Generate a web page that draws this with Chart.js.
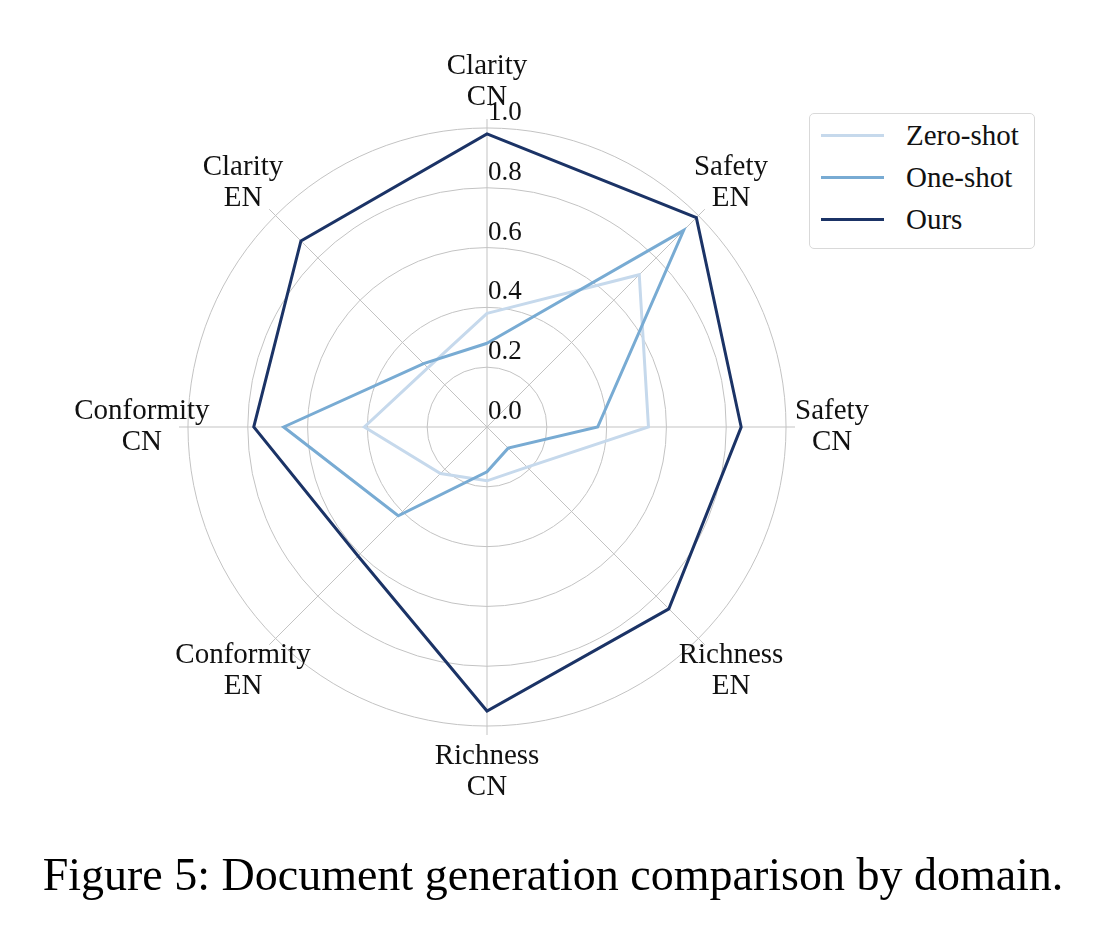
<!DOCTYPE html>
<html lang="en">
<head>
    <meta charset="UTF-8">
    <title>Document generation comparison by domain</title>
    <script src="https://cdn.jsdelivr.net/npm/chart.js"></script>
    <style>
        body {
            margin: 0;
            background: #ffffff;
            font-family: "Liberation Serif", "DejaVu Serif", serif;
        }
        #wrap {
            position: relative;
            width: 1106px;
            height: 936px;
        }
        #chartBox { position: absolute; left: 0; top: 0; width: 1106px; height: 936px; }
        #legend {
            position: absolute;
            left: 809px;
            top: 113px;
            width: 224px;
            height: 134px;
            border: 1px solid #d9d9d9;
            border-radius: 5px;
            background: #fff;
        }
        .row {
            position: absolute;
            left: 0;
            height: 30px;
            width: 224px;
            font-size: 29px;
            color: #111;
        }
        .row .swatch {
            position: absolute;
            left: 11px;
            top: 13px;
            width: 63px;
            height: 3px;
        }
        .row span.txt {
            position: absolute;
            left: 96px;
            top: -1px;
            line-height: 30px;
        }
        #caption {
            position: absolute;
            left: 0;
            width: 1106px;
            top: 848px;
            text-align: center;
            font-size: 46px;
            line-height: 54px;
            color: #000;
        }
    </style>
</head>
<body>
<div id="wrap">
    <div id="chartBox"><canvas id="radarChart"></canvas></div>
    <div id="legend"></div>
    <div id="caption">Figure 5: Document generation comparison by domain.</div>
</div>
<script>
    // axes, clockwise from the top
    const axisLabels = [
        ['Clarity', 'CN'], ['Safety', 'EN'], ['Safety', 'CN'], ['Richness', 'EN'],
        ['Richness', 'CN'], ['Conformity', 'EN'], ['Conformity', 'CN'], ['Clarity', 'EN']
    ];
    const seriesNames = ['Zero-shot', 'One-shot', 'Ours'];
    const zeroShot = [0.38, 0.72, 0.54, 0.19, 0.18, 0.22, 0.41, 0.28];
    const oneShot  = [0.28, 0.93, 0.37, 0.10, 0.15, 0.42, 0.68, 0.30];
    const ours     = [0.98, 0.99, 0.85, 0.86, 0.95, 0.61, 0.78, 0.88];
    const tickValues = [0.0, 0.2, 0.4, 0.6, 0.8, 1.0];
    const tickLabels = ['0.0', '0.2', '0.4', '0.6', '0.8', '1.0'];

    const colors = ['#c6d9ec', '#78abd3', '#1b3366'];
    const gridColor = '#c3c3c3';

    // tick labels and two-line axis labels, placed through the radial scale
    const radarText = {
        id: 'radarText',
        afterDraw(chart) {
            const r = chart.scales.r;
            const ctx = chart.ctx;
            ctx.save();
            ctx.fillStyle = '#111';
            ctx.font = '27px "Liberation Serif", serif';
            ctx.textAlign = 'left';
            ctx.textBaseline = 'alphabetic';
            tickValues.forEach((v, i) => {
                const d = r.getDistanceFromCenterForValue(v);
                ctx.fillText(tickLabels[i], r.xCenter + 1, r.yCenter - d - 8);
            });
            ctx.font = '29px "Liberation Serif", serif';
            ctx.textAlign = 'center';
            ctx.textBaseline = 'middle';
            axisLabels.forEach((lines, i) => {
                const p = r.getPointPositionForValue(i, 1.154);
                lines.forEach((t, k) => {
                    ctx.fillText(t, p.x, p.y + (k - (lines.length - 1) / 2) * 31);
                });
            });
            ctx.restore();
        }
    };

    const seriesData = [zeroShot, oneShot, ours];
    const datasets = seriesNames.map((name, i) => ({
        label: name,
        data: seriesData[i],
        borderColor: colors[i],
        backgroundColor: colors[i],
        borderWidth: 3,
        fill: false,
        pointRadius: 0,
        pointHoverRadius: 0,
        tension: 0,
        order: 3 - i
    }));

    new Chart(document.getElementById('radarChart'), {
        type: 'radar',
        data: {
            labels: axisLabels.map(l => l.join(' ')),
            datasets: datasets
        },
        options: {
            responsive: true,
            maintainAspectRatio: false,
            animation: false,
            layout: { padding: { left: 179, top: 119, right: 311, bottom: 201 } },
            plugins: {
                legend: { display: false },
                tooltip: { enabled: false }
            },
            scales: {
                r: {
                    min: 0,
                    max: 1.03,
                    bounds: 'data',
                    ticks: { display: false, stepSize: 0.2, includeBounds: false },
                    grid: {
                        circular: true,
                        lineWidth: 1,
                        color: c => (c.tick && c.tick.value > 1.0001) ? 'rgba(0,0,0,0)' : gridColor
                    },
                    angleLines: { color: gridColor, lineWidth: 1 },
                    pointLabels: { display: false }
                }
            }
        },
        plugins: [radarText]
    });

    // legend
    const legend = document.getElementById('legend');
    seriesNames.forEach((name, i) => {
        const row = document.createElement('div');
        row.className = 'row';
        row.style.top = (7 + i * 42) + 'px';
        row.innerHTML = '<div class="swatch" style="background:' + colors[i] + '"></div><span class="txt">' + name + '</span>';
        legend.appendChild(row);
    });
</script>
</body>
</html>
